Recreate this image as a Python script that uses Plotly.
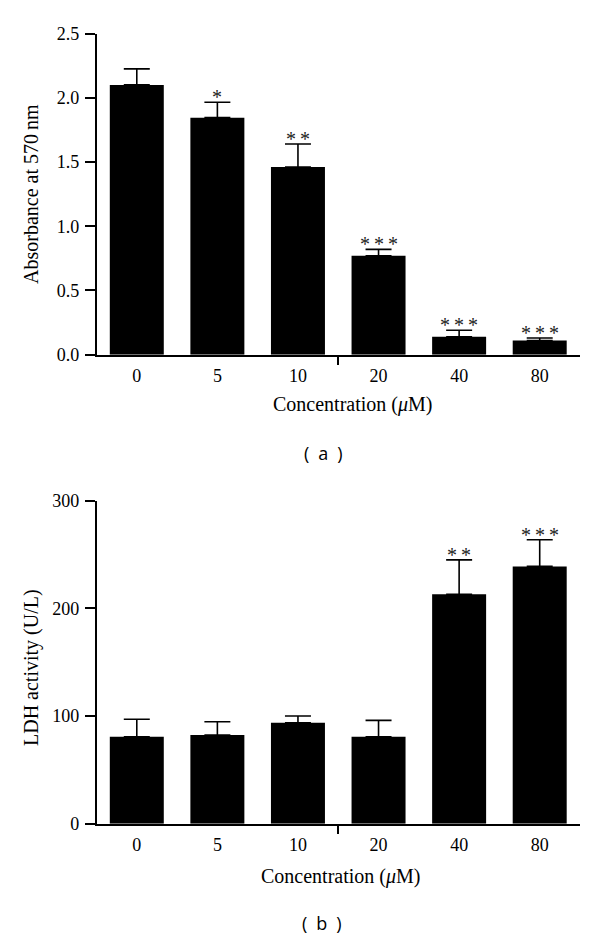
import plotly.graph_objects as go

# ---------------- data ----------------
categories = ["0", "5", "10", "20", "40", "80"]
absorbance = [2.10, 1.845, 1.46, 0.77, 0.14, 0.11]
absorbance_err = [0.125, 0.12, 0.18, 0.05, 0.05, 0.02]
absorbance_sig = ["", "*", "**", "***", "***", "***"]
ldh = [80.8, 82.4, 93.8, 80.8, 213.0, 239.0]
ldh_err = [16.2, 12.3, 6.2, 15.2, 32.0, 24.7]
ldh_sig = ["", "", "", "", "**", "***"]
abs_ticks = [0, 0.5, 1.0, 1.5, 2.0, 2.5]
ldh_ticks = [0, 100, 200, 300]

W, H = 600, 939
SERIF = "Liberation Serif"
SANS = "Open Sans"


def px_x(p):
    return p / W


def px_y(p):
    return 1 - p / H


xpos = list(range(len(categories)))

fig = go.Figure()


def add_panel(vals, errs, xa, ya):
    fig.add_trace(go.Bar(
        x=xpos, y=vals, width=0.67,
        marker=dict(color="black", line=dict(width=0)),
        error_y=dict(type="data", symmetric=False, array=errs,
                     arrayminus=[0] * len(vals), color="black",
                     thickness=1.6, width=13),
        xaxis=xa, yaxis=ya, hoverinfo="skip",
    ))


add_panel(absorbance, absorbance_err, "x", "y")
add_panel(ldh, ldh_err, "x2", "y2")

annotations = []
for ys, es, sig, xr, yr in [(absorbance, absorbance_err, absorbance_sig, "x", "y"),
                            (ldh, ldh_err, ldh_sig, "x2", "y2")]:
    for xv, v, e, s in zip(xpos, ys, es, sig):
        if s:
            annotations.append(dict(
                x=xv, y=v + e, xref=xr, yref=yr,
                text="\u2009".join(s), showarrow=False,
                xanchor="center", yanchor="bottom", yshift=-8,
                font=dict(family=SERIF, size=20, color="#222"),
            ))

title_font = dict(family=SERIF, size=20, color="black")
label_font = dict(family=SANS, size=18, color="black")


def paper_text(x, y, text, font, angle=0):
    return dict(x=px_x(x), y=px_y(y), xref="paper", yref="paper",
                xanchor="center", yanchor="middle", textangle=angle,
                text=text, showarrow=False, font=font)


annotations += [
    paper_text(352, 405, "Concentration (<i>μ</i>M)", title_font),
    paper_text(340, 876, "Concentration (<i>μ</i>M)", title_font),
    paper_text(31, 194, "Absorbance at 570\u2009nm", title_font, -90),
    paper_text(31, 668, "LDH activity (U/L)", title_font, -90),
    paper_text(323, 453, "(\u2002a\u2002)", label_font),
    paper_text(322, 923, "(\u2002b\u2002)", label_font),
]

tick_font = dict(family=SERIF, size=18, color="black")


def xaxis_cfg(anchor):
    return dict(
        domain=[px_x(96.5), px_x(580)], range=[-0.5, 5.5], anchor=anchor,
        tickmode="array", tickvals=xpos, ticktext=categories, ticks="",
        tickfont=tick_font, showline=True, linecolor="black", linewidth=1.5,
        showgrid=False, zeroline=False, fixedrange=True, automargin=False,
        minor=dict(tickmode="array", tickvals=[2.5], ticks="outside",
                   ticklen=9, tickwidth=1.5, tickcolor="black"),
        ticklabelstandoff=4,
    )


def yaxis_cfg(anchor, top, bottom, rng, tv, fmt):
    return dict(
        domain=[px_y(bottom), px_y(top)], range=rng, anchor=anchor,
        tickmode="array", tickvals=tv, tickformat=fmt, ticks="outside",
        ticklen=10, tickwidth=1.5, tickcolor="black", tickfont=tick_font,
        showline=True, linecolor="black", linewidth=1.5, automargin=False,
        showgrid=False, zeroline=False, fixedrange=True,
        ticklabelstandoff=2,
    )


fig.update_layout(
    width=W, height=H,
    margin=dict(l=0, r=0, t=0, b=0, pad=0),
    paper_bgcolor="white", plot_bgcolor="white",
    showlegend=False,
    xaxis=xaxis_cfg("y"),
    yaxis=yaxis_cfg("x", 33.5, 354.7, [0, 2.5], abs_ticks, ".1f"),
    xaxis2=xaxis_cfg("y2"),
    yaxis2=yaxis_cfg("x2", 500.7, 823.7, [0, 300], ldh_ticks, "d"),
    annotations=annotations,
)

fig.write_html(
    "out.html",
    config={"displayModeBar": False},
    post_script="document.body.style.margin='0';"
                "document.body.style.overflow='hidden';",
)
